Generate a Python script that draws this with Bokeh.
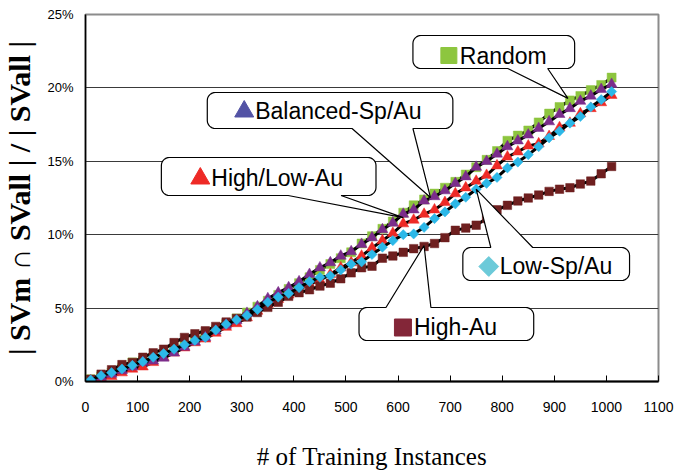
import math
from bokeh.plotting import figure
from bokeh.models import Range1d, FixedTicker, PrintfTickFormatter
from bokeh.embed import file_html
from bokeh.resources import INLINE
from bokeh.core.properties import value

# ---------------- data (percent of |SVall|) ----------------
instances = [10, 30, 50, 70, 90, 110, 130, 150, 170, 190,
             210, 230, 250, 270, 290, 310, 330, 350, 370, 390,
             410, 430, 450, 470, 490, 510, 530, 550, 570, 590,
             610, 630, 650, 670, 690, 710, 730, 750, 770, 790,
             810, 830, 850, 870, 890, 910, 930, 950, 970, 990, 1010]

random_pct = [0.15, 0.35, 0.6, 0.9, 1.3, 1.4, 1.6, 1.9, 2.2, 2.5,
              2.8, 3.2, 3.5, 3.9, 4.3, 4.7, 5.1, 5.5, 5.9, 6.3,
              6.7, 7.1, 7.6, 8.0, 8.4, 8.8, 9.4, 9.9, 10.4, 10.9,
              11.5, 12.0, 12.4, 12.8, 13.2, 13.6, 14.1, 14.6, 15.1, 15.7,
              16.4, 16.75, 17.1, 17.65, 18.25, 18.7, 19.15, 19.45, 19.85, 20.2, 20.7]

balanced_pct = [0.05, 0.3, 0.5, 0.75, 1.0, 1.3, 1.4, 1.6, 1.95, 2.35,
                2.7, 3.0, 3.45, 3.85, 4.15, 4.65, 5.1, 5.65, 6.05, 6.4,
                6.8, 7.3, 7.75, 8.1, 8.55, 8.85, 9.35, 9.8, 10.35, 10.8,
                11.4, 11.7, 12.3, 12.6, 13.0, 13.5, 13.95, 14.6, 15.0, 15.5,
                16.0, 16.4, 16.8, 17.25, 17.7, 18.2, 18.6, 19.1, 19.45, 19.9, 20.25]

highlow_pct = [0.0, 0.2, 0.35, 0.6, 0.85, 1.0, 1.3, 1.65, 1.95, 2.3,
               2.65, 2.9, 3.3, 3.7, 3.95, 4.35, 4.8, 5.25, 5.6, 5.9,
               6.3, 6.6, 6.9, 7.3, 7.75, 8.1, 8.55, 9.1, 9.6, 10.1,
               10.75, 11.0, 11.4, 11.7, 12.2, 12.8, 13.2, 13.65, 14.05, 14.7,
               15.3, 15.65, 16.05, 16.2, 16.7, 17.3, 17.6, 18.25, 18.6, 19.0, 19.5]

lowsp_pct = [0.1, 0.4, 0.6, 0.85, 1.1, 1.35, 1.65, 1.9, 2.2, 2.5,
             2.8, 3.0, 3.5, 3.9, 4.2, 4.5, 4.9, 5.4, 5.75, 6.0,
             6.4, 6.8, 7.1, 7.2, 7.6, 8.0, 8.15, 8.65, 9.15, 9.6,
             10.0, 10.05, 10.5, 11.1, 11.55, 12.1, 12.55, 13.1, 13.5, 13.9,
             14.55, 14.95, 15.45, 16.0, 16.6, 17.05, 17.6, 18.05, 18.7, 19.2, 19.75]

highau_pct = [0.15, 0.5, 0.8, 1.15, 1.3, 1.65, 1.95, 2.2, 2.65, 3.0,
              3.25, 3.45, 3.75, 4.05, 4.3, 4.4, 4.7, 5.05, 5.4, 5.8,
              6.05, 6.25, 6.5, 6.7, 7.0, 7.4, 7.75, 7.85, 8.4, 8.55,
              8.8, 9.05, 9.2, 9.4, 9.8, 10.3, 10.45, 10.65, 11.1, 11.7,
              12.0, 12.3, 12.5, 12.7, 12.95, 13.1, 13.2, 13.45, 13.65, 14.15, 14.65]

x_ticks = [0, 100, 200, 300, 400, 500, 600, 700, 800, 900, 1000, 1100]
y_ticks = [0, 5, 10, 15, 20, 25]

# ---------------- layout ----------------
W, H = 693, 475
FL, FR, FT, FB = 84, 658, 14, 381   # frame edges (px)
X0, X1 = 0, 1100
Y0, Y1 = 0, 25


def px_to_data(px, py):
    return (X0 + (px - FL) / (FR - FL) * (X1 - X0),
            Y0 + (FB - py) / (FB - FT) * (Y1 - Y0))


def data_to_px(x, y):
    return (FL + (x - X0) / (X1 - X0) * (FR - FL),
            FB - (y - Y0) / (Y1 - Y0) * (FB - FT))


p = figure(width=W, height=H, output_backend="svg", toolbar_location=None,
           x_range=Range1d(X0, X1), y_range=Range1d(Y0, Y1),
           min_border_left=FL, min_border_right=W - FR,
           min_border_top=FT, min_border_bottom=H - FB,
           background_fill_color="white", border_fill_color="white")
p.outline_line_color = "#8c8c8c"
p.outline_line_width = 2

p.xgrid.visible = False
p.ygrid.ticker = FixedTicker(ticks=y_ticks)
p.ygrid.grid_line_color = "#3a3a3a"
p.ygrid.grid_line_width = 1

xa = p.xaxis[0]
xa.ticker = FixedTicker(ticks=x_ticks)
xa.major_tick_in = 6
xa.major_tick_out = 0
xa.minor_tick_line_color = None
xa.axis_line_width = 2
xa.axis_line_color = "black"
xa.major_tick_line_color = "black"
xa.major_tick_line_width = 1
xa.major_label_text_font = "Liberation Sans"
xa.major_label_text_font_size = "14px"
xa.major_label_text_color = "black"
xa.major_label_standoff = 20
xa.axis_label = "# of Training Instances"
xa.axis_label_text_font = "Liberation Serif"
xa.axis_label_text_font_style = "normal"
xa.axis_label_text_font_size = "25px"
xa.axis_label_text_color = "black"
xa.axis_label_standoff = 28

ya = p.yaxis[0]
ya.ticker = FixedTicker(ticks=y_ticks)
ya.formatter = PrintfTickFormatter(format="%d%%")
ya.major_tick_in = 0
ya.major_tick_out = 0
ya.minor_tick_line_color = None
ya.axis_line_width = 1.5
ya.axis_line_color = "black"
ya.major_label_text_font = "Liberation Sans"
ya.major_label_text_font_size = "13px"
ya.major_label_text_color = "black"
ya.major_label_standoff = 12
ya.axis_label = "| SVm \u2229 SVall | / | SVall |"
ya.axis_label_text_font = "Liberation Serif"
ya.axis_label_text_font_style = "bold"
ya.axis_label_text_font_size = "30px"
ya.axis_label_text_color = "black"
ya.axis_label_standoff = 8

# ---------------- series ----------------
series = [
    # (values, marker, size, angle, color)
    (random_pct, "square", 9, 0, "#8DC53E"),
    (highlow_pct, "triangle", 11, 0, "#EE2A26"),
    (highau_pct, "square", 8.5, 0, "#6E1F1F"),
    (balanced_pct, "triangle", 11, 0, "#7B2D8B"),
    (lowsp_pct, "square", 7.2, math.pi / 4, "#2CB8E8"),
]
for vals, mk, sz, ang, col in series:
    p.line(instances, vals, line_color="black", line_width=3)
    p.scatter(instances, vals, marker=mk, size=sz, angle=ang,
              fill_color=col, line_color=col, line_width=0.5)

# ---------------- callouts ----------------
callouts = [
    dict(text="Random", box=(412, 35, 574, 68), side="bottom", base=(507, 547),
         vals=random_pct, idx=46, off=(-2, -2),
         icon=("square", 448, 55, 16, 0, "#8DC63F"), tx=459, ty=55),
    dict(text="Balanced-Sp/Au", box=(206, 92, 452, 128), side="bottom", base=(351, 412),
         vals=balanced_pct, idx=33, off=(-4, 1),
         icon=("triangle", 243, 111, 19, 0, "#5353A5"), tx=254, ty=110),
    dict(text="High/Low-Au", box=(160, 157, 375, 195), side="bottom", base=(287, 340),
         vals=highlow_pct, idx=30, off=(0, -6),
         icon=("triangle", 199, 178, 19, 0, "#EE2A26"), tx=210, ty=177),
    dict(text="Low-Sp/Au", box=(462, 247, 629, 280), side="top", base=(490, 532),
         vals=lowsp_pct, idx=37, off=(0, 0),
         icon=("square", 488, 266, 14, math.pi / 4, "#6CCAD9"), tx=499, ty=265),
    dict(text="High-Au", box=(358, 307, 533, 340), side="top", base=(385, 430),
         vals=highau_pct, idx=32, off=(0, -1),
         icon=("square", 402, 327, 17, 0, "#832638"), tx=413, ty=326),
]


def arc(cx, cy, r, a0, a1, n=8):
    pts = []
    for k in range(n + 1):
        t = math.radians(a0 + (a1 - a0) * k / n)
        pts.append((cx + r * math.cos(t), cy + r * math.sin(t)))
    return pts


def callout_outline(box, side, base, tip, r=8):
    x0, y0, x1, y1 = box
    pts = []
    pts += arc(x0 + r, y0 + r, r, 180, 270)
    if side == "top":
        pts += [(base[0], y0), tip, (base[1], y0)]
    pts += arc(x1 - r, y0 + r, r, 270, 360)
    pts += arc(x1 - r, y1 - r, r, 0, 90)
    if side == "bottom":
        pts += [(base[1], y1), tip, (base[0], y1)]
    pts += arc(x0 + r, y1 - r, r, 90, 180)
    return pts


for c in callouts:
    i = c["idx"]
    tpx, tpy = data_to_px(instances[i], c["vals"][i])
    tip = (tpx + c["off"][0], tpy + c["off"][1])
    outline = callout_outline(c["box"], c["side"], c["base"], tip)
    dx, dy = zip(*[px_to_data(a, b) for a, b in outline])
    p.patch(list(dx), list(dy), fill_color="white", line_color="black", line_width=1.2)
    mk, ix, iy, isz, iang, icol = c["icon"]
    ixd, iyd = px_to_data(ix, iy)
    p.scatter([ixd], [iyd], marker=mk, size=isz, angle=iang,
              fill_color=icol, line_color=icol)
    txd, tyd = px_to_data(c["tx"], c["ty"])
    p.text([txd], [tyd], text=[c["text"]], text_font=value("Liberation Sans"),
           text_font_size="23px", text_baseline="middle", text_align="left",
           text_color="black")

open("out.html", "w").write(file_html(p, INLINE))
